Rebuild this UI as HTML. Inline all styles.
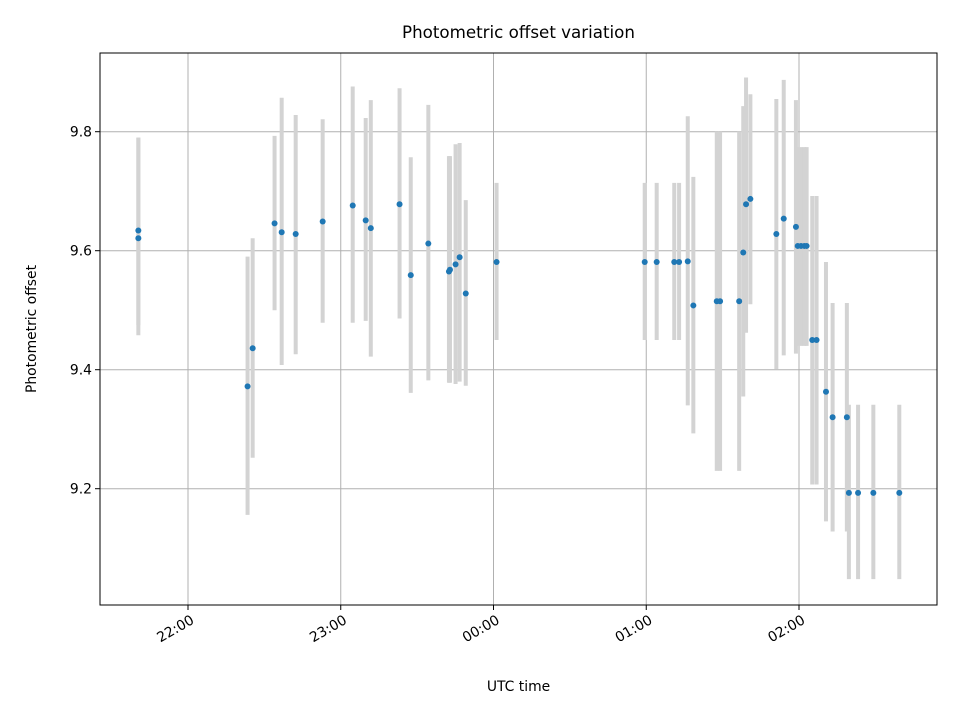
<!DOCTYPE html>
<html><head><meta charset="utf-8"><style>
html,body{margin:0;padding:0;background:#fff;}
svg{display:block;font-family:"DejaVu Sans","Liberation Sans",sans-serif;}
</style></head><body>
<svg id="chart" width="960" height="720" viewBox="0 0 960 720" xmlns="http://www.w3.org/2000/svg">
<rect x="0" y="0" width="960" height="720" fill="#fff"/>
<g id="grid"></g>
<g id="bars"></g>
<g id="pts"></g>
<rect x="100" y="53" width="837" height="552" fill="none" stroke="#000" stroke-width="1"/>
<g id="ticks"></g>
<text x="518.5" y="38" text-anchor="middle" font-size="16.7">Photometric offset variation</text>
<text x="518.5" y="691" text-anchor="middle" font-size="13.9">UTC time</text>
<text x="36" y="329" text-anchor="middle" font-size="13.9" transform="rotate(-90 36 329)">Photometric offset</text>
</svg>
<script>
// minutes after 21:00 UTC
const times = [40.5,40.5,83.4,85.4,94.0,96.8,102.3,112.9,124.7,129.8,131.8,143.1,147.5,154.4,162.5,162.9,165.1,166.7,169.1,181.2,
239.4,244.1,251.0,252.9,256.3,258.5,267.7,269.0,276.5,278.1,279.2,280.9,291.1,294.0,298.8,299.5,300.8,302.1,303.0,305.2,306.9,310.6,313.2,318.8,319.6,323.2,329.2,339.4];
const values = [9.634,9.621,9.372,9.436,9.646,9.631,9.628,9.649,9.676,9.651,9.638,9.678,9.559,9.612,9.565,9.568,9.577,9.589,9.528,9.581,
9.581,9.581,9.581,9.581,9.582,9.508,9.515,9.515,9.515,9.597,9.678,9.687,9.628,9.654,9.640,9.608,9.608,9.608,9.608,9.450,9.450,9.363,9.320,9.320,9.193,9.193,9.193,9.193];
const errLow = [9.475,9.458,9.156,9.252,9.500,9.408,9.426,9.479,9.479,9.482,9.422,9.486,9.361,9.382,9.378,9.378,9.376,9.380,9.373,9.450,
9.450,9.450,9.450,9.450,9.340,9.293,9.230,9.230,9.230,9.355,9.462,9.510,9.401,9.424,9.427,9.440,9.440,9.440,9.440,9.207,9.207,9.145,9.128,9.128,9.048,9.048,9.048,9.048];
const errHigh = [9.790,9.790,9.590,9.621,9.793,9.857,9.828,9.821,9.876,9.823,9.853,9.873,9.757,9.845,9.759,9.759,9.779,9.781,9.685,9.714,
9.714,9.714,9.714,9.714,9.826,9.724,9.800,9.800,9.800,9.843,9.891,9.863,9.855,9.887,9.853,9.774,9.774,9.774,9.774,9.692,9.692,9.581,9.512,9.512,9.341,9.341,9.341,9.341];
const yTicks = [9.2,9.4,9.6,9.8];
const yTickLabels = ["9.2","9.4","9.6","9.8"];
const xTicks = [60,120,180,240,300];
const xTickLabels = ["22:00","23:00","00:00","01:00","02:00"];

const NS="http://www.w3.org/2000/svg";
const X0=100,X1=937,Y0=53,Y1=605;
const xs=m=>188+(m-60)*152.75/60;
const ys=v=>250.7-(v-9.6)*595;
function mk(tag,attrs,parent){const e=document.createElementNS(NS,tag);for(const k in attrs)e.setAttribute(k,attrs[k]);parent.appendChild(e);return e;}
const grid=document.getElementById('grid'),ticks=document.getElementById('ticks'),bars=document.getElementById('bars'),pts=document.getElementById('pts');
yTicks.forEach((v,i)=>{
  const y=ys(v);
  const g=mk('line',{x1:X0,x2:X1,y1:y,y2:y,stroke:'#b0b0b0','stroke-width':1},grid);
  
  
  const t=mk('line',{x1:X0-5,x2:X0,y1:y,y2:y,stroke:'#000','stroke-width':1},ticks);
  
  
  const l=mk('text',{x:X0-8,y:y+5,'text-anchor':'end','font-size':13.9},ticks);
  l.textContent=yTickLabels[i];
  
  
});
xTicks.forEach((m,i)=>{
  const x=xs(m);
  const g=mk('line',{x1:x,x2:x,y1:Y0,y2:Y1,stroke:'#b0b0b0','stroke-width':1},grid);
  
  
  const t=mk('line',{x1:x,x2:x,y1:Y1,y2:Y1+5,stroke:'#000','stroke-width':1},ticks);
  
  
  const l=mk('text',{x:x+2,y:Y1+19,'text-anchor':'end','font-size':13.9,transform:`rotate(-30 ${x+2} ${Y1+9})`},ticks);
  l.textContent=xTickLabels[i];
  
  
});
times.forEach((m,i)=>{
  const x=xs(m);
  const b=mk('line',{x1:x,x2:x,y1:ys(errHigh[i]),y2:ys(errLow[i]),stroke:'#d3d3d3','stroke-width':4},bars);
  
  
});
times.forEach((m,i)=>{
  const c=mk('circle',{cx:xs(m),cy:ys(values[i]),r:3,fill:'#1f77b4'},pts);
  
  
});
</script>
</body></html>
